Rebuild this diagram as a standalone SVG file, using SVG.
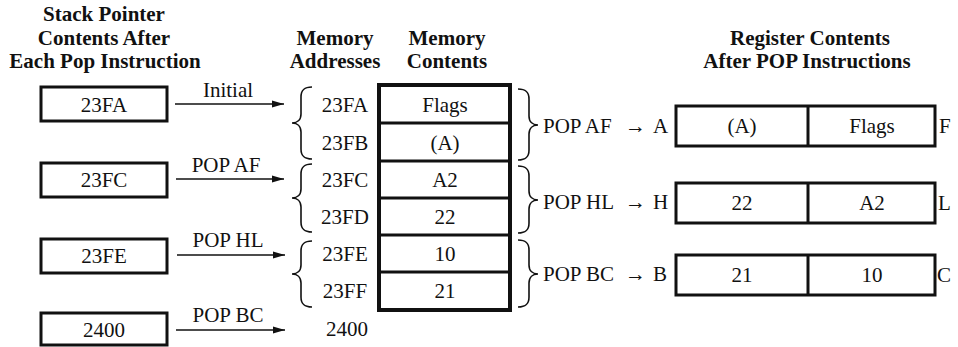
<svg xmlns="http://www.w3.org/2000/svg" width="958" height="347" viewBox="0 0 958 347">
<style>
text{font-family:"Liberation Serif",Tinos,"Times New Roman","DejaVu Serif",serif;fill:#111;}
.h{font-size:21px;font-weight:bold;text-anchor:middle;}
.t{font-size:21px;}
.c{text-anchor:middle;}
.box{fill:#fff;stroke:#111;stroke-width:3;}
.frame{fill:#fff;stroke:#111;stroke-width:4;}
.div{stroke:#111;stroke-width:3;}
.brace{fill:none;stroke:#111;stroke-width:1.6;}
.arr{stroke:#111;stroke-width:1.6;fill:none;marker-end:url(#ah);}
</style>
<defs>
<marker id="ah" markerUnits="userSpaceOnUse" markerWidth="14" markerHeight="10" refX="12" refY="4" orient="auto">
<path d="M0,0.5 L12,4 L0,7.5 Z" fill="#111"/>
</marker>
</defs>
<rect width="958" height="347" fill="#fff"/>

<g id="headers" font-family="Liberation Serif, serif">
<text class="h" x="104" y="21">Stack Pointer</text>
<text class="h" x="104" y="45">Contents After</text>
<text class="h" x="105" y="68">Each Pop Instruction</text>
<text class="h" x="335" y="45">Memory</text>
<text class="h" x="335" y="68">Addresses</text>
<text class="h" x="447" y="45">Memory</text>
<text class="h" x="447" y="68">Contents</text>
<text class="h" x="810" y="45">Register Contents</text>
<text class="h" x="807" y="68">After POP Instructions</text>
</g>

<g id="sp-23FA"><rect class="box" x="41" y="87" width="126" height="34"/><text class="t c" x="104" y="112">23FA</text></g>
<g id="sp-23FC"><rect class="box" x="41" y="163" width="126" height="34"/><text class="t c" x="104" y="187">23FC</text></g>
<g id="sp-23FE"><rect class="box" x="41" y="239" width="126" height="34"/><text class="t c" x="104" y="263">23FE</text></g>
<g id="sp-2400"><rect class="box" x="41" y="313" width="126" height="32"/><text class="t c" x="104" y="337">2400</text></g>

<g id="connectors">
<line class="arr" x1="175" y1="104" x2="284" y2="104"/>
<text class="t c" x="228" y="97">Initial</text>
<line class="arr" x1="176" y1="179" x2="284" y2="179"/>
<text class="t c" x="226" y="172">POP AF</text>
<line class="arr" x1="177" y1="255" x2="285" y2="255"/>
<text class="t c" x="228" y="247">POP HL</text>
<line class="arr" x1="176" y1="330" x2="285" y2="330"/>
<text class="t c" x="228" y="322">POP BC</text>
</g>

<g id="addresses">
<text class="t c" x="345" y="112">23FA</text>
<text class="t c" x="345" y="150">23FB</text>
<text class="t c" x="345" y="187">23FC</text>
<text class="t c" x="345" y="224">23FD</text>
<text class="t c" x="345" y="261">23FE</text>
<text class="t c" x="345" y="298">23FF</text>
<text class="t c" x="347" y="336">2400</text>
</g>

<g id="address-braces">
<path class="brace" d="M312,87 C304,87 301,90 301,97 L301,114 C301,120 297,123 292,123 C297,123 301,126 301,132 L301,149 C301,156 304,159 312,159"/>
<path class="brace" d="M312,164 C304,164 301,167 301,174 L301,189 C301,195 297,198 292,198 C297,198 301,201 301,207 L301,222 C301,229 304,232 312,232"/>
<path class="brace" d="M312,241 C304,241 301,244 301,251 L301,265 C301,271 297,274 292,274 C297,274 301,277 301,283 L301,297 C301,304 304,307 312,307"/>
</g>

<g id="memory">
<rect class="frame" x="379" y="85" width="131" height="225"/>
<line class="div" x1="379" y1="123" x2="510" y2="123"/>
<line class="div" x1="379" y1="161" x2="510" y2="161"/>
<line class="div" x1="379" y1="198" x2="510" y2="198"/>
<line class="div" x1="379" y1="235" x2="510" y2="235"/>
<line class="div" x1="379" y1="272" x2="510" y2="272"/>
<text class="t c" x="445" y="112">Flags</text>
<text class="t c" x="445" y="150">(A)</text>
<text class="t c" x="445" y="187">A2</text>
<text class="t c" x="445" y="224">22</text>
<text class="t c" x="445" y="261">10</text>
<text class="t c" x="445" y="298">21</text>
</g>

<g id="pop-braces">
<path class="brace" d="M518,89 C526,89 529,92 529,99 L529,116 C529,122 533,125 538,125 C533,125 529,128 529,134 L529,150 C529,157 526,160 518,160"/>
<path class="brace" d="M518,166 C526,166 529,169 529,176 L529,191 C529,197 533,200 538,200 C533,200 529,203 529,209 L529,223 C529,230 526,233 518,233"/>
<path class="brace" d="M518,240 C526,240 529,243 529,250 L529,265 C529,271 533,274 538,274 C533,274 529,277 529,283 L529,297 C529,304 526,307 518,307"/>
</g>

<g id="reg-AF">
<text class="t" y="133"><tspan x="543">POP AF</tspan><tspan x="625">→</tspan><tspan x="653">A</tspan></text>
<rect class="box" x="676" y="106" width="259" height="40"/>
<line class="div" x1="808" y1="106" x2="808" y2="146"/>
<text class="t c" x="742" y="133">(A)</text>
<text class="t c" x="872" y="133">Flags</text>
<text class="t" x="939" y="133">F</text>
</g>
<g id="reg-HL">
<text class="t" y="209"><tspan x="543">POP HL</tspan><tspan x="625">→</tspan><tspan x="653">H</tspan></text>
<rect class="box" x="676" y="183" width="259" height="40"/>
<line class="div" x1="808" y1="183" x2="808" y2="223"/>
<text class="t c" x="742" y="210">22</text>
<text class="t c" x="872" y="210">A2</text>
<text class="t" x="938" y="210">L</text>
</g>
<g id="reg-BC">
<text class="t" y="281"><tspan x="543">POP BC</tspan><tspan x="625">→</tspan><tspan x="653">B</tspan></text>
<rect class="box" x="676" y="255" width="259" height="40"/>
<line class="div" x1="808" y1="255" x2="808" y2="295"/>
<text class="t c" x="742" y="282">21</text>
<text class="t c" x="872" y="282">10</text>
<text class="t" x="937" y="282">C</text>
</g>
</svg>
